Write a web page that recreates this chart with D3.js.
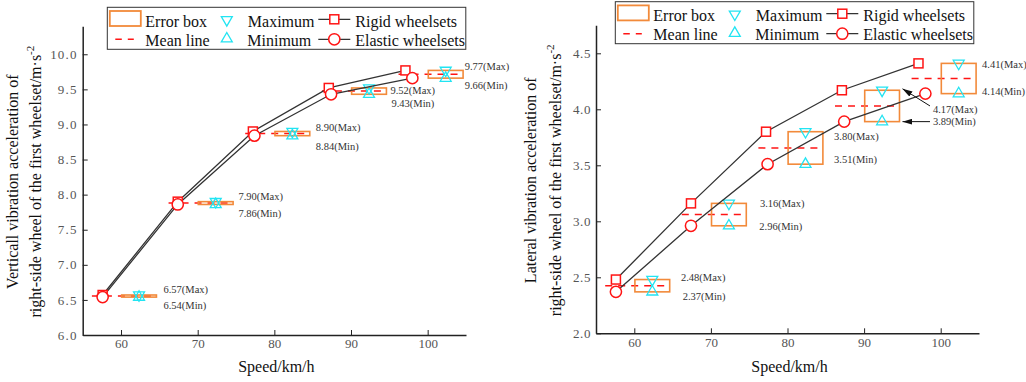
<!DOCTYPE html>
<html>
<head>
<meta charset="utf-8">
<script src="https://cdn.jsdelivr.net/npm/d3@7"></script>
<style>
  html, body { margin: 0; padding: 0; background: #fff; }
  svg { display: block; font-family: "Liberation Serif", "DejaVu Serif", serif; }
</style>
</head>
<body>
<svg id="chart" width="1026" height="382"></svg>
<script>
// Measured speeds (km/h) and where each wheelset's marker sits on the speed axis
const speeds = [60, 70, 80, 90, 100];
const rigidPos = [57.6, 67.4, 77.2, 87.1, 97.1];
const elasticPos = [57.6, 67.4, 77.4, 87.4, 98.0];

// Vertical vibration acceleration (m/s^2)
const verticalRigid = [6.57, 7.90, 8.90, 9.52, 9.77];
const verticalElastic = [6.54, 7.86, 8.84, 9.43, 9.66];

// Lateral vibration acceleration (m/s^2)
const lateralRigid = [2.48, 3.16, 3.80, 4.17, 4.41];
const lateralElastic = [2.37, 2.96, 3.51, 3.89, 4.14];

// Tick values
const speedTicks = [60, 70, 80, 90, 100];
const verticalTicks = [6.0, 6.5, 7.0, 7.5, 8.0, 8.5, 9.0, 9.5, 10.0];
const lateralTicks = [2.0, 2.5, 3.0, 3.5, 4.0, 4.5];

const RED = "#ff1414";
const ORANGE = "#f28a3a";
const CYAN = "#22e4f2";
const INK = "#333";

const svg = d3.select("#chart");

// arrowhead for call-out labels
svg.append("defs").append("marker")
  .attr("id", "arrowHead")
  .attr("viewBox", "0 0 10 6")
  .attr("refX", 10).attr("refY", 3)
  .attr("markerWidth", 10).attr("markerHeight", 6)
  .attr("markerUnits", "userSpaceOnUse")
  .attr("orient", "auto")
  .append("path").attr("d", "M0,0 L10,3 L0,6 Z").attr("fill", "#111");

const triSize = 52;
const triUp = d3.symbol().type(d3.symbolTriangle).size(triSize);

function drawPanel(cfg) {
  const x = d3.scaleLinear().domain([55, 105]).range(cfg.xRange);
  const y = d3.scaleLinear().domain(cfg.yDomain).range(cfg.yRange);
  const g = svg.append("g");

  // axes
  const xAxis = d3.axisBottom(x).tickValues(speedTicks).tickSizeInner(-5).tickSizeOuter(0).tickPadding(4)
    .tickFormat(d3.format("d"));
  const yAxis = d3.axisLeft(y).tickValues(cfg.yTicks).tickSizeInner(-5).tickSizeOuter(0).tickPadding(5)
    .tickFormat(d3.format(".1f"));

  const gx = g.append("g").attr("transform", `translate(0,${cfg.yRange[0]})`).call(xAxis);
  const gy = g.append("g").attr("transform", `translate(${cfg.xRange[0]},0)`).call(yAxis);
  [gx, gy].forEach(a => {
    a.select(".domain").attr("stroke", "#222").attr("stroke-width", 1.5);
    a.selectAll(".tick line").attr("stroke", "#222").attr("stroke-width", 1);
    a.selectAll(".tick text").attr("fill", "#555").attr("font-size", 13)
      .attr("font-family", "Liberation Serif, serif");
  });
  gy.selectAll(".tick text").attr("letter-spacing", cfg.tickSpacing);

  // axis titles
  g.append("text")
    .attr("x", (cfg.xRange[0] + cfg.xRange[1]) / 2 + 2)
    .attr("y", 372)
    .attr("text-anchor", "middle").attr("font-size", 16).attr("fill", "#111")
    .text("Speed/km/h");

  const midY = (cfg.yRange[0] + cfg.yRange[1]) / 2 + 1;
  g.append("text")
    .attr("transform", `translate(${cfg.titleX[0]},${midY}) rotate(-90)`)
    .attr("text-anchor", "middle").attr("font-size", 16).attr("fill", "#111")
    .text(cfg.title1);
  const t2 = g.append("text")
    .attr("transform", `translate(${cfg.titleX[1]},${midY}) rotate(-90)`)
    .attr("text-anchor", "middle").attr("font-size", 16).attr("fill", "#111");
  t2.append("tspan").text("right-side wheel of the first wheelset/m·s");
  t2.append("tspan").attr("dy", -7).attr("font-size", 11).text("-2");

  const rows = speeds.map((s, i) => ({
    s, i,
    max: cfg.rigid[i],
    min: cfg.elastic[i],
    mean: (cfg.rigid[i] + cfg.elastic[i]) / 2
  }));

  // mean lines
  g.selectAll(".mean").data(rows).join("line")
    .attr("x1", d => x(d.s - 3.8)).attr("x2", d => x(d.s + 4.6))
    .attr("y1", d => y(d.mean)).attr("y2", d => y(d.mean))
    .attr("stroke", RED).attr("stroke-width", 1.5).attr("stroke-dasharray", "7,6");

  // error boxes spanning min..max
  g.selectAll(".box").data(rows).join("rect")
    .attr("x", d => x(d.s + 2.35 - 2.27))
    .attr("width", d => x(d.s + 2.35 + 2.27) - x(d.s + 2.35 - 2.27))
    .attr("y", d => y(d.max))
    .attr("height", d => y(d.min) - y(d.max))
    .attr("fill", "none").attr("stroke", ORANGE).attr("stroke-width", 1.6);

  // maximum / minimum triangles
  g.selectAll(".tmax").data(rows).join("path")
    .attr("d", triUp)
    .attr("transform", d => `translate(${x(d.s + 2.35)},${y(d.max)}) rotate(180)`)
    .attr("fill", "none").attr("stroke", CYAN).attr("stroke-width", 1.3);
  g.selectAll(".tmin").data(rows).join("path")
    .attr("d", triUp)
    .attr("transform", d => `translate(${x(d.s + 2.35)},${y(d.min)})`)
    .attr("fill", "none").attr("stroke", CYAN).attr("stroke-width", 1.3);

  // wheelset curves
  const lineR = d3.line().x((d, i) => x(rigidPos[i])).y(d => y(d));
  const lineE = d3.line().x((d, i) => x(elasticPos[i])).y(d => y(d));
  g.append("path").attr("d", lineR(cfg.rigid)).attr("fill", "none").attr("stroke", INK).attr("stroke-width", 1.3);
  g.append("path").attr("d", lineE(cfg.elastic)).attr("fill", "none").attr("stroke", INK).attr("stroke-width", 1.3);

  g.selectAll(".sq").data(cfg.rigid).join("rect")
    .attr("x", (d, i) => x(rigidPos[i]) - 4.5).attr("y", d => y(d) - 4.5)
    .attr("width", 9).attr("height", 9)
    .attr("fill", "#fff").attr("stroke", RED).attr("stroke-width", 1.5);
  g.selectAll(".ci").data(cfg.elastic).join("circle")
    .attr("cx", (d, i) => x(elasticPos[i])).attr("cy", d => y(d)).attr("r", 5.6)
    .attr("fill", "#fff").attr("stroke", RED).attr("stroke-width", 1.5);

  // value call-outs
  rows.forEach(d => {
    const n = cfg.nudge[d.i];
    const bx = x(d.s + 2.35 + 2.27);
    const ym = y(d.mean);
    g.append("text").attr("x", bx + n[0]).attr("y", ym + n[1])
      .attr("dominant-baseline", "central").attr("font-size", 10.5).attr("fill", "#333")
      .text(`${d.max.toFixed(2)}(Max)`);
    g.append("text").attr("x", bx + n[3]).attr("y", ym + n[2])
      .attr("dominant-baseline", "central").attr("font-size", 10.5).attr("fill", "#333")
      .text(`${d.min.toFixed(2)}(Min)`);
    if (n[4]) {
      g.append("line")
        .attr("x1", bx + n[0] - 3).attr("y1", ym + n[1] - 4)
        .attr("x2", bx + 3).attr("y2", y(d.max) - 1.5)
        .attr("stroke", "#111").attr("stroke-width", 1).attr("marker-end", "url(#arrowHead)");
      g.append("line")
        .attr("x1", bx + n[3] - 3).attr("y1", ym + n[2])
        .attr("x2", bx + 3).attr("y2", ym + n[2])
        .attr("stroke", "#111").attr("stroke-width", 1).attr("marker-end", "url(#arrowHead)");
    }
  });

  // legend
  const L = cfg.legend[0], T = cfg.legend[1];
  const lg = g.append("g");
  lg.append("rect").attr("x", L).attr("y", T).attr("width", 358.5).attr("height", 42)
    .attr("fill", "#fff").attr("stroke", "#333").attr("stroke-width", 1);
  lg.append("rect").attr("x", L + 2.5).attr("y", T + 3.7).attr("width", 31).attr("height", 15)
    .attr("fill", "none").attr("stroke", ORANGE).attr("stroke-width", 1.8);
  lg.append("line").attr("x1", L + 8).attr("x2", L + 26.5).attr("y1", T + 32).attr("y2", T + 32)
    .attr("stroke", RED).attr("stroke-width", 1.5).attr("stroke-dasharray", "6.5,6");
  lg.append("path").attr("d", triUp).attr("transform", `translate(${L + 119.5},${T + 12.5}) rotate(180)`)
    .attr("fill", "none").attr("stroke", CYAN).attr("stroke-width", 1.3);
  lg.append("path").attr("d", triUp).attr("transform", `translate(${L + 119.5},${T + 31.5})`)
    .attr("fill", "none").attr("stroke", CYAN).attr("stroke-width", 1.3);
  [T + 12, T + 32].forEach((yy, k) => {
    lg.append("line").attr("x1", L + 211).attr("x2", L + 243).attr("y1", yy).attr("y2", yy)
      .attr("stroke", INK).attr("stroke-width", 1.3);
    if (k === 0) {
      lg.append("rect").attr("x", L + 227 - 4.5).attr("y", yy - 4.5).attr("width", 9).attr("height", 9)
        .attr("fill", "#fff").attr("stroke", RED).attr("stroke-width", 1.5);
    } else {
      lg.append("circle").attr("cx", L + 227).attr("cy", yy).attr("r", 5.6)
        .attr("fill", "#fff").attr("stroke", RED).attr("stroke-width", 1.5);
    }
  });
  const items = [
    ["Error box", 38, 19.5], ["Mean line", 38, 38.5],
    ["Maximum", 140.5, 19.5], ["Minimum", 140, 38.5],
    ["Rigid wheelsets", 248, 19.5], ["Elastic wheelsets", 248, 38.5]
  ];
  items.forEach(([txt, dx, dy]) => {
    lg.append("text").attr("x", L + dx).attr("y", T + dy).attr("font-size", 16).attr("fill", "#111").text(txt);
  });
}

drawPanel({
  xRange: [82.7, 466],
  yDomain: [6, 10.4],
  yRange: [335, 26.2],
  yTicks: verticalTicks,
  tickSpacing: 1.2,
  rigid: verticalRigid,
  elastic: verticalElastic,
  title1: "Verticall vibration acceleration of",
  titleX: [18, 41],
  legend: [107.3, 7.3],
  // [max dx, max dy, min dy, min dx, arrows]
  nudge: [[7, -6.7, 9.3, 7], [5.3, -7, 10, 5.3], [6, -6.5, 13.2, 6], [4, -1, 12.6, 5], [1.6, -7.5, 11, 1.6]]
});

drawPanel({
  xRange: [596, 979],
  yDomain: [2, 4.75],
  yRange: [333.3, 25.3],
  yTicks: lateralTicks,
  tickSpacing: 0.6,
  rigid: lateralRigid,
  elastic: lateralElastic,
  title1: "Lateral vibration acceleration of",
  titleX: [536, 561],
  legend: [615.3, 1.7],
  nudge: [[11.3, -8.7, 10.3, 13], [13.6, -11.3, 12.1, 13], [11.2, -11.3, 12, 11.2], [33.5, 4, 15.7, 33.5, true], [6, -14.2, 13.2, 6]]
});
</script>
</body>
</html>
